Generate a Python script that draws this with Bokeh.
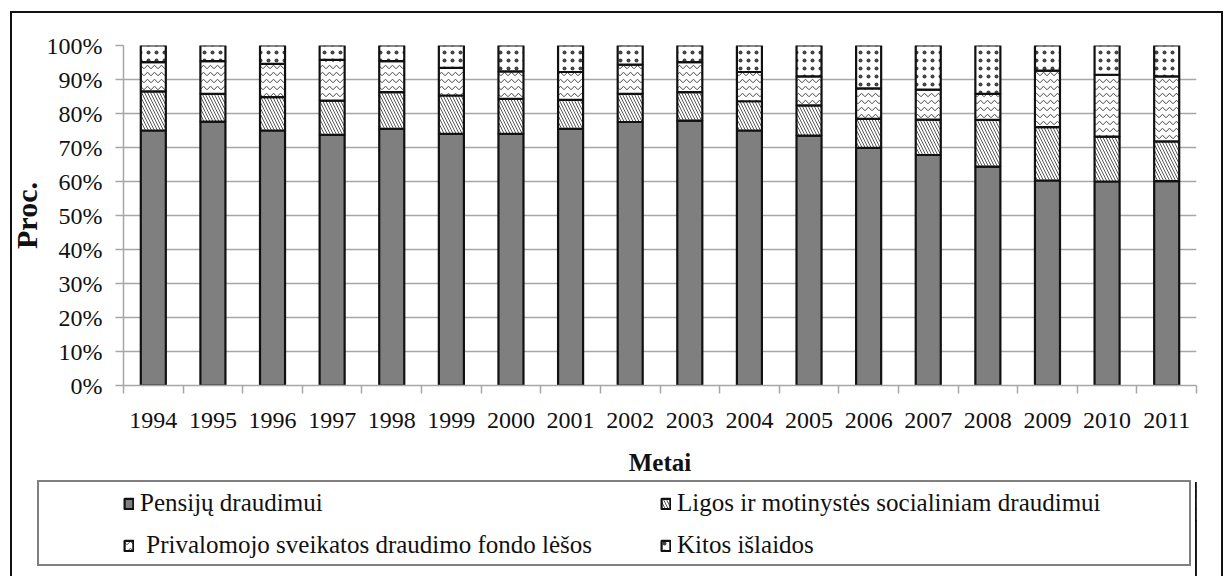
from bokeh.plotting import figure
from bokeh.layouts import column
from bokeh.models import (ColumnDataSource, Range1d, FixedTicker, InlineStyleSheet,
                          PrintfTickFormatter, Legend, LegendItem)
from bokeh.embed import file_html
from bokeh.resources import INLINE

years = ["1994", "1995", "1996", "1997", "1998", "1999", "2000", "2001", "2002",
         "2003", "2004", "2005", "2006", "2007", "2008", "2009", "2010", "2011"]
pensiju = [75.0, 77.6, 75.0, 73.7, 75.5, 74.0, 74.0, 75.5, 77.5, 77.9, 75.0, 73.5, 69.9, 67.8, 64.4, 60.3, 60.0, 60.1]
ligos = [11.5, 8.2, 9.8, 10.1, 10.8, 11.3, 10.3, 8.5, 8.3, 8.4, 8.6, 8.9, 8.5, 10.4, 13.7, 15.7, 13.2, 11.7]
privalomojo = [8.6, 9.6, 9.8, 12.0, 9.1, 8.1, 8.1, 8.2, 8.6, 8.8, 8.6, 8.5, 9.0, 8.8, 7.7, 16.6, 18.2, 19.1]
kitos = [4.9, 4.6, 5.4, 4.2, 4.6, 6.6, 7.6, 7.8, 5.6, 4.9, 7.8, 9.1, 12.6, 13.0, 14.2, 7.4, 8.6, 9.1]
series_names = ["Pensijų draudimui", "Ligos ir motinystės socialiniam draudimui",
                " Privalomojo sveikatos draudimo fondo lėšos", "Kitos išlaidos"]
y_ticks = [0, 10, 20, 30, 40, 50, 60, 70, 80, 90, 100]

FONT = "Liberation Serif"
GRID = "#a6a6a6"
TXT = "#111111"

n = len(years)
centers = [i + 0.5 for i in range(n)]   # category centres on the index scale
source = ColumnDataSource(dict(x=centers, year=years, p=pensiju, l=ligos, v=privalomojo, k=kitos))

fills = ["#7f7f7f", "white", "white", "white"]
hatches = [" ", "\\", "v", "."]
scales = [6, 6, 7, 8]
weights = [1, 0.9, 1, 0.6]
bar_style = dict(x="x", width=0.42, source=source, fill_color=fills, line_color=TXT,
                 line_width=2.2, hatch_pattern=hatches, hatch_color="#444444",
                 hatch_scale=scales, hatch_weight=weights)

# ---- main chart ----
p = figure(width=1224, height=482, output_backend="svg", toolbar_location=None,
           x_range=Range1d(0, n), y_range=Range1d(0, 100),
           min_border_left=123, min_border_right=28,
           min_border_top=45, min_border_bottom=97)
p.outline_line_color = None
p.background_fill_color = "white"
p.border_fill_color = "white"
p.xgrid.grid_line_color = None
p.ygrid.grid_line_color = GRID
p.ygrid.grid_line_width = 1.5
p.ygrid.ticker = FixedTicker(ticks=y_ticks)

ya = p.yaxis[0]
ya.ticker = FixedTicker(ticks=y_ticks)
ya.formatter = PrintfTickFormatter(format="%d%%")
ya.axis_line_color = GRID
ya.axis_line_width = 1.5
ya.major_tick_line_color = GRID
ya.major_tick_line_width = 1.5
ya.major_tick_out = 8
ya.major_tick_in = 0
ya.minor_tick_line_color = None
ya.major_label_standoff = 13
ya.major_label_text_font = FONT
ya.major_label_text_font_size = "24px"
ya.major_label_text_color = TXT
ya.axis_label = "Proc."
ya.axis_label_text_font = FONT
ya.axis_label_text_font_style = "bold"
ya.axis_label_text_font_size = "30px"
ya.axis_label_text_color = TXT
ya.axis_label_standoff = 1

# x axis: labels at category centres, tick marks at category boundaries
xa = p.xaxis[0]
xa.ticker = FixedTicker(ticks=centers, minor_ticks=list(range(n + 1)))
xa.major_label_overrides = {c: y for c, y in zip(centers, years)}
xa.axis_line_color = GRID
xa.axis_line_width = 1.5
xa.major_tick_line_color = None
xa.major_tick_out = 8
xa.major_tick_in = 0
xa.minor_tick_line_color = GRID
xa.minor_tick_line_width = 1.5
xa.minor_tick_out = 8
xa.minor_tick_in = 0
xa.major_label_standoff = 19
xa.major_label_text_font = FONT
xa.major_label_text_font_size = "24px"
xa.major_label_text_color = TXT
xa.axis_label = "Metai"
xa.axis_label_text_font = FONT
xa.axis_label_text_font_style = "bold"
xa.axis_label_text_font_size = "25px"
xa.axis_label_text_color = TXT
xa.axis_label_standoff = 18

p.vbar_stack(["p", "l", "v", "k"], **bar_style)

# ---- legend strip (same series styling, plotted outside its visible range) ----
p2 = figure(width=1224, height=94, output_backend="svg", toolbar_location=None,
            x_range=Range1d(-10, -9), y_range=Range1d(0, 100),
            x_axis_location=None, y_axis_location=None,
            min_border_left=0, min_border_right=0, min_border_top=0, min_border_bottom=0)
p2.outline_line_color = None
p2.grid.visible = False
p2.background_fill_color = "white"
p2.border_fill_color = "white"
rs = p2.vbar_stack(["p", "l", "v", "k"], **bar_style)

legend = Legend(items=[LegendItem(label=nm, renderers=[r]) for nm, r in zip(series_names, rs)],
                location=(0, 17), orientation="horizontal", ncols=2,
                padding=0, spacing=14, glyph_width=11, glyph_height=13,
                label_standoff=6, label_width=506, label_height=28,
                label_text_font=FONT, label_text_font_size="25px", label_text_color=TXT,
                border_line_color=None, background_fill_alpha=0)
p2.add_layout(legend, "center")

layout = column(p, p2, spacing=0)
css = """
:host { position: relative; }
:host::before { content: ""; position: absolute; left: 10px; top: 11px; width: 1213px; height: 580px;
  border: 2px solid #111111; border-bottom: none; box-sizing: border-box; pointer-events: none; z-index: 10; }
:host::after { content: ""; position: absolute; left: 37px; top: 480px; width: 1154px; height: 86px;
  border: 2px solid #808080; box-sizing: border-box; pointer-events: none; z-index: 10; }
"""
layout.stylesheets = [InlineStyleSheet(css=css)]

open("out.html", "w").write(file_html(layout, INLINE))
